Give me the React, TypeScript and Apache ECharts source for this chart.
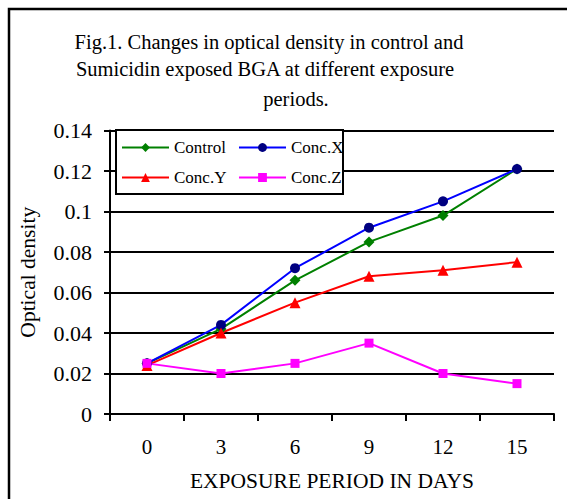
import React, { useEffect, useRef } from "react";
import * as echarts from "echarts";

const categories = ["0", "3", "6", "9", "12", "15"];
const controlValues = [0.025, 0.042, 0.066, 0.085, 0.098, 0.121];
const concXValues = [0.025, 0.044, 0.072, 0.092, 0.105, 0.121];
const concYValues = [0.024, 0.04, 0.055, 0.068, 0.071, 0.075];
const concZValues = [0.025, 0.02, 0.025, 0.035, 0.02, 0.015];
const titleLines = [
  "Fig.1. Changes in optical density in control and",
  "Sumicidin exposed BGA at different exposure",
  "periods.",
];

const FONT = "'Liberation Serif', 'Times New Roman', serif";

export default function App() {
  const ref = useRef<HTMLDivElement>(null);
  useEffect(() => {
    if (!ref.current) return;
    const chart = echarts.init(ref.current, undefined, { renderer: "svg" });
    const legendText = { fontFamily: FONT, fontSize: 17, color: "#000" };
    const legendCommon = {
      orient: "horizontal" as const,
      itemWidth: 47,
      itemHeight: 11,
      itemGap: 4,
      textStyle: legendText,
      padding: 0,
      z: 5,
    };
    chart.setOption({
      animation: false,
      backgroundColor: "#fff",
      title: [
        { text: titleLines[0], left: 269, top: 31, textAlign: "center" },
        { text: titleLines[1], left: 265, top: 58, textAlign: "center" },
        { text: titleLines[2], left: 296, top: 88, textAlign: "center" },
      ].map((t) => ({
        ...t,
        textStyle: { fontFamily: FONT, fontSize: 20.5, fontWeight: "normal", color: "#000" },
        padding: 0,
      })),
      legend: [
        { ...legendCommon, data: ["Control"], left: 121, top: 139 },
        { ...legendCommon, data: ["Conc.X"], left: 238, top: 139 },
        { ...legendCommon, data: ["Conc.Y"], left: 121, top: 169 },
        { ...legendCommon, data: ["Conc.Z"], left: 238, top: 169 },
      ],
      graphic: [
        {
          type: "rect",
          shape: { x: 9, y: 9, width: 620, height: 620 },
          style: { fill: "none", stroke: "#000", lineWidth: 2.5 },
          z: 1,
        },
        {
          type: "rect",
          shape: { x: 116, y: 130, width: 227, height: 64 },
          style: { fill: "#fff", stroke: "#000", lineWidth: 2 },
          z: 4,
        },
      ],
      grid: {
        left: 110,
        width: 444,
        top: 130.5,
        height: 283.5,
        containLabel: false,
        outerBoundsMode: "none",
      },
      xAxis: {
        type: "category",
        data: categories,
        boundaryGap: true,
        name: "EXPOSURE PERIOD IN DAYS",
        nameLocation: "middle",
        nameGap: 56,
        nameTextStyle: { fontFamily: FONT, fontSize: 21.5, color: "#000" },
        axisLine: { lineStyle: { color: "#000", width: 2 } },
        axisTick: { show: true, length: 7, lineStyle: { color: "#000", width: 2 } },
        axisLabel: { fontFamily: FONT, fontSize: 21, color: "#000", margin: 22 },
      },
      yAxis: {
        type: "value",
        min: 0,
        max: 0.14,
        interval: 0.02,
        name: "Optical density",
        nameLocation: "middle",
        nameGap: 71,
        nameTextStyle: { fontFamily: FONT, fontSize: 21.5, color: "#000" },
        axisLine: { show: true, lineStyle: { color: "#000", width: 2 } },
        axisTick: { show: true, length: 6, lineStyle: { color: "#000", width: 2 } },
        axisLabel: { fontFamily: FONT, fontSize: 22, color: "#000", margin: 18 },
        splitLine: { show: true, lineStyle: { color: "#000", width: 2 } },
      },
      series: [
        {
          name: "Control",
          type: "line",
          data: controlValues,
          symbol: "diamond",
          symbolSize: 11,
          lineStyle: { color: "#008000", width: 2 },
          itemStyle: { color: "#008000" },
          z: 3,
        },
        {
          name: "Conc.X",
          type: "line",
          data: concXValues,
          symbol: "circle",
          symbolSize: 10,
          lineStyle: { color: "#0000ff", width: 2 },
          itemStyle: { color: "#000080" },
          z: 3,
        },
        {
          name: "Conc.Y",
          type: "line",
          data: concYValues,
          symbol: "triangle",
          symbolSize: 11,
          lineStyle: { color: "#ff0000", width: 2 },
          itemStyle: { color: "#ff0000" },
          z: 3,
        },
        {
          name: "Conc.Z",
          type: "line",
          data: concZValues,
          symbol: "rect",
          symbolSize: 9,
          lineStyle: { color: "#ff00ff", width: 2 },
          itemStyle: { color: "#ff00ff" },
          z: 3,
        },
      ],
    });
    return () => chart.dispose();
  }, []);
  return (
    <div
      ref={ref}
      style={{ position: "fixed", left: 0, top: 0, width: 567, height: 499 }}
    />
  );
}
